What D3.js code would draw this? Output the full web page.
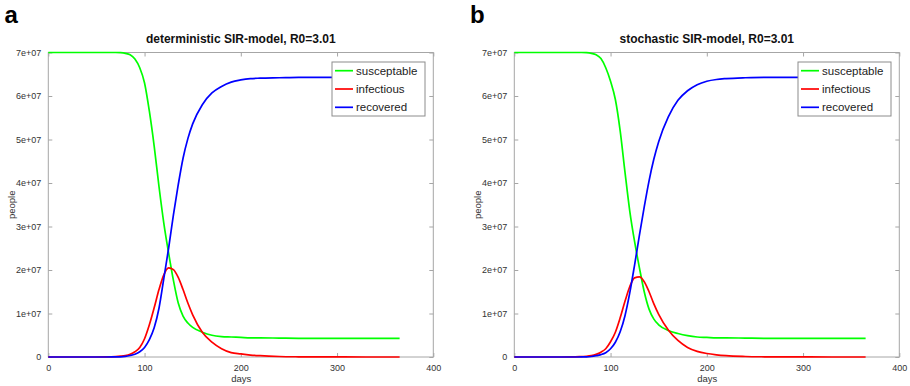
<!DOCTYPE html>
<html>
<head>
<meta charset="utf-8">
<script src="https://cdn.jsdelivr.net/npm/d3@7"></script>
<style>
  html, body { margin: 0; padding: 0; background: #fff; }
  svg { display: block; font-family: "Liberation Sans", Arial, Helvetica, sans-serif; }
</style>
</head>
<body>
<svg id="chart" width="910" height="386"></svg>
<script>
// Simulation output sampled at these days (values in units of 1e7 people)
const days = [0, 20, 40, 60, 70, 75, 80, 85, 90, 95, 100, 105, 110, 115, 120, 125, 130, 135, 140, 145, 150,
              160, 170, 180, 190, 200, 210, 220, 240, 260, 280, 300, 330, 365];

// deterministic model
const detS = [7.0, 7.0, 7.0, 7.0, 7.0, 6.995, 6.98, 6.95, 6.85, 6.65, 6.30, 5.65, 4.85, 3.92, 3.08, 2.39, 1.76, 1.24, 0.94, 0.78, 0.68,
              0.57, 0.50, 0.47, 0.46, 0.45, 0.44, 0.44, 0.435, 0.43, 0.43, 0.43, 0.43, 0.43];
const detI = [0, 0, 0, 0.002, 0.01, 0.02, 0.035, 0.065, 0.12, 0.22, 0.42, 0.74, 1.13, 1.55, 1.89, 2.05, 2.01, 1.83, 1.55, 1.24, 0.97,
              0.57, 0.34, 0.19, 0.10, 0.07, 0.045, 0.03, 0.012, 0.005, 0.002, 0.001, 0, 0];
const detR = [0, 0, 0, 0, 0.002, 0.005, 0.015, 0.035, 0.065, 0.12, 0.22, 0.40, 0.67, 1.12, 1.80, 2.50, 3.27, 3.96, 4.57, 5.02, 5.36,
              5.80, 6.07, 6.22, 6.32, 6.37, 6.40, 6.41, 6.42, 6.43, 6.43, 6.43, 6.43, 6.43];

// stochastic model
const stoS = [7.0, 7.0, 7.0, 7.0, 7.0, 6.995, 6.98, 6.95, 6.86, 6.65, 6.34, 5.92, 5.20, 4.25, 3.35, 2.65, 2.05, 1.50, 1.10, 0.87, 0.74,
              0.61, 0.54, 0.49, 0.46, 0.45, 0.44, 0.44, 0.435, 0.43, 0.43, 0.43, 0.43, 0.43];
const stoI = [0, 0, 0, 0.002, 0.01, 0.015, 0.03, 0.06, 0.11, 0.19, 0.35, 0.57, 0.90, 1.28, 1.62, 1.82, 1.84, 1.73, 1.50, 1.22, 0.98,
              0.62, 0.38, 0.22, 0.13, 0.08, 0.05, 0.03, 0.012, 0.005, 0.002, 0.001, 0, 0];
const stoR = [0, 0, 0, 0, 0.001, 0.004, 0.012, 0.03, 0.055, 0.10, 0.19, 0.34, 0.58, 0.95, 1.48, 2.12, 2.80, 3.45, 4.05, 4.55, 4.95,
              5.52, 5.90, 6.12, 6.26, 6.34, 6.38, 6.40, 6.42, 6.43, 6.43, 6.43, 6.43, 6.43];

const xTicks = [0, 100, 200, 300, 400];
const yTicks = [0, 1, 2, 3, 4, 5, 6, 7];
const yTickLabels = ["0", "1e+07", "2e+07", "3e+07", "4e+07", "5e+07", "6e+07", "7e+07"];
const seriesNames = ["susceptable", "infectious", "recovered"];
const seriesColors = ["#00ff00", "#ff0000", "#0000ff"];
const panelTitles = ["deterministic SIR-model, R0=3.01", "stochastic SIR-model, R0=3.01"];
const panelLetters = ["a", "b"];

const svg = d3.select("#chart");
const plotW = 385, plotH = 304.5;
const panelOffsets = [48.3, 514.3];
const plotTop = 52.5;
const frameColor = "#a6a6a6";
const textColor = "#333";

function drawPanel(idx, series) {
  const x0 = panelOffsets[idx];
  const g = svg.append("g").attr("transform", `translate(${x0},${plotTop})`);
  const x = d3.scaleLinear().domain([0, 400]).range([0, plotW]);
  const y = d3.scaleLinear().domain([0, 7]).range([plotH, 0]);

  // frame
  g.append("rect").attr("x", 0).attr("y", 0).attr("width", plotW).attr("height", plotH)
    .attr("fill", "none").attr("stroke", frameColor).attr("stroke-width", 1);

  // bottom axis with inward ticks
  const xAxis = g.append("g").attr("transform", `translate(0,${plotH})`)
    .call(d3.axisBottom(x).tickValues(xTicks).tickSize(-4).tickPadding(8).tickFormat(d3.format("d")));
  // top ticks (mirror)
  const xTop = g.append("g")
    .call(d3.axisTop(x).tickValues(xTicks).tickSize(-4).tickFormat(""));
  // left axis
  const yAxis = g.append("g")
    .call(d3.axisLeft(y).tickValues(yTicks).tickSize(-4).tickPadding(7).tickFormat((d, i) => yTickLabels[i]));
  // right ticks (mirror)
  const yRight = g.append("g").attr("transform", `translate(${plotW},0)`)
    .call(d3.axisRight(y).tickValues(yTicks).tickSize(-4).tickFormat(""));

  [xAxis, xTop, yAxis, yRight].forEach(a => {
    a.select(".domain").remove();
    a.selectAll(".tick line").attr("stroke", frameColor);
    a.selectAll(".tick text").attr("fill", textColor).style("font-size", "9px")
      .style("font-family", "'Liberation Sans', Arial, sans-serif");
  });

  // curves
  const line = d3.line().x((d, i) => x(days[i])).y(d => y(d)).curve(d3.curveMonotoneX);
  series.forEach((vals, k) => {
    g.append("path").datum(vals).attr("d", line)
      .attr("fill", "none").attr("stroke", seriesColors[k]).attr("stroke-width", 1.7)
      .attr("stroke-linejoin", "round");
  });

  // title
  g.append("text").attr("x", plotW / 2).attr("y", -10).attr("text-anchor", "middle")
    .style("font-size", "12px").style("font-weight", "bold").attr("fill", "#111")
    .text(panelTitles[idx]);

  // axis labels
  g.append("text").attr("x", plotW / 2 + 0.5).attr("y", plotH + 24.5).attr("text-anchor", "middle")
    .style("font-size", "9.5px").attr("fill", textColor).text("days");
  g.append("text").attr("transform", `translate(${-33},${plotH / 2}) rotate(-90)`)
    .attr("text-anchor", "middle").style("font-size", "9.5px").attr("fill", textColor).text("people");

  // legend
  const lg = g.append("g").attr("transform", `translate(${283.7},${9.5})`);
  lg.append("rect").attr("x", 0).attr("y", 0).attr("width", 93).attr("height", 54)
    .attr("fill", "#fff").attr("stroke", "#8c8c8c").attr("stroke-width", 1);
  seriesNames.forEach((name, k) => {
    const yy = 8.7 + k * 18.3;
    lg.append("line").attr("x1", 3).attr("x2", 21).attr("y1", yy).attr("y2", yy)
      .attr("stroke", seriesColors[k]).attr("stroke-width", 1.7);
    lg.append("text").attr("x", 24).attr("y", yy).attr("dy", "0.35em")
      .style("font-size", "11.5px").attr("fill", "#222").text(name);
  });

  // panel letter
  svg.append("text").attr("x", idx === 0 ? 4.5 : 470).attr("y", 23)
    .style("font-size", "24px").style("font-weight", "bold").attr("fill", "#000")
    .text(panelLetters[idx]);
}

drawPanel(0, [detS, detI, detR]);
drawPanel(1, [stoS, stoI, stoR]);
</script>
</body>
</html>
